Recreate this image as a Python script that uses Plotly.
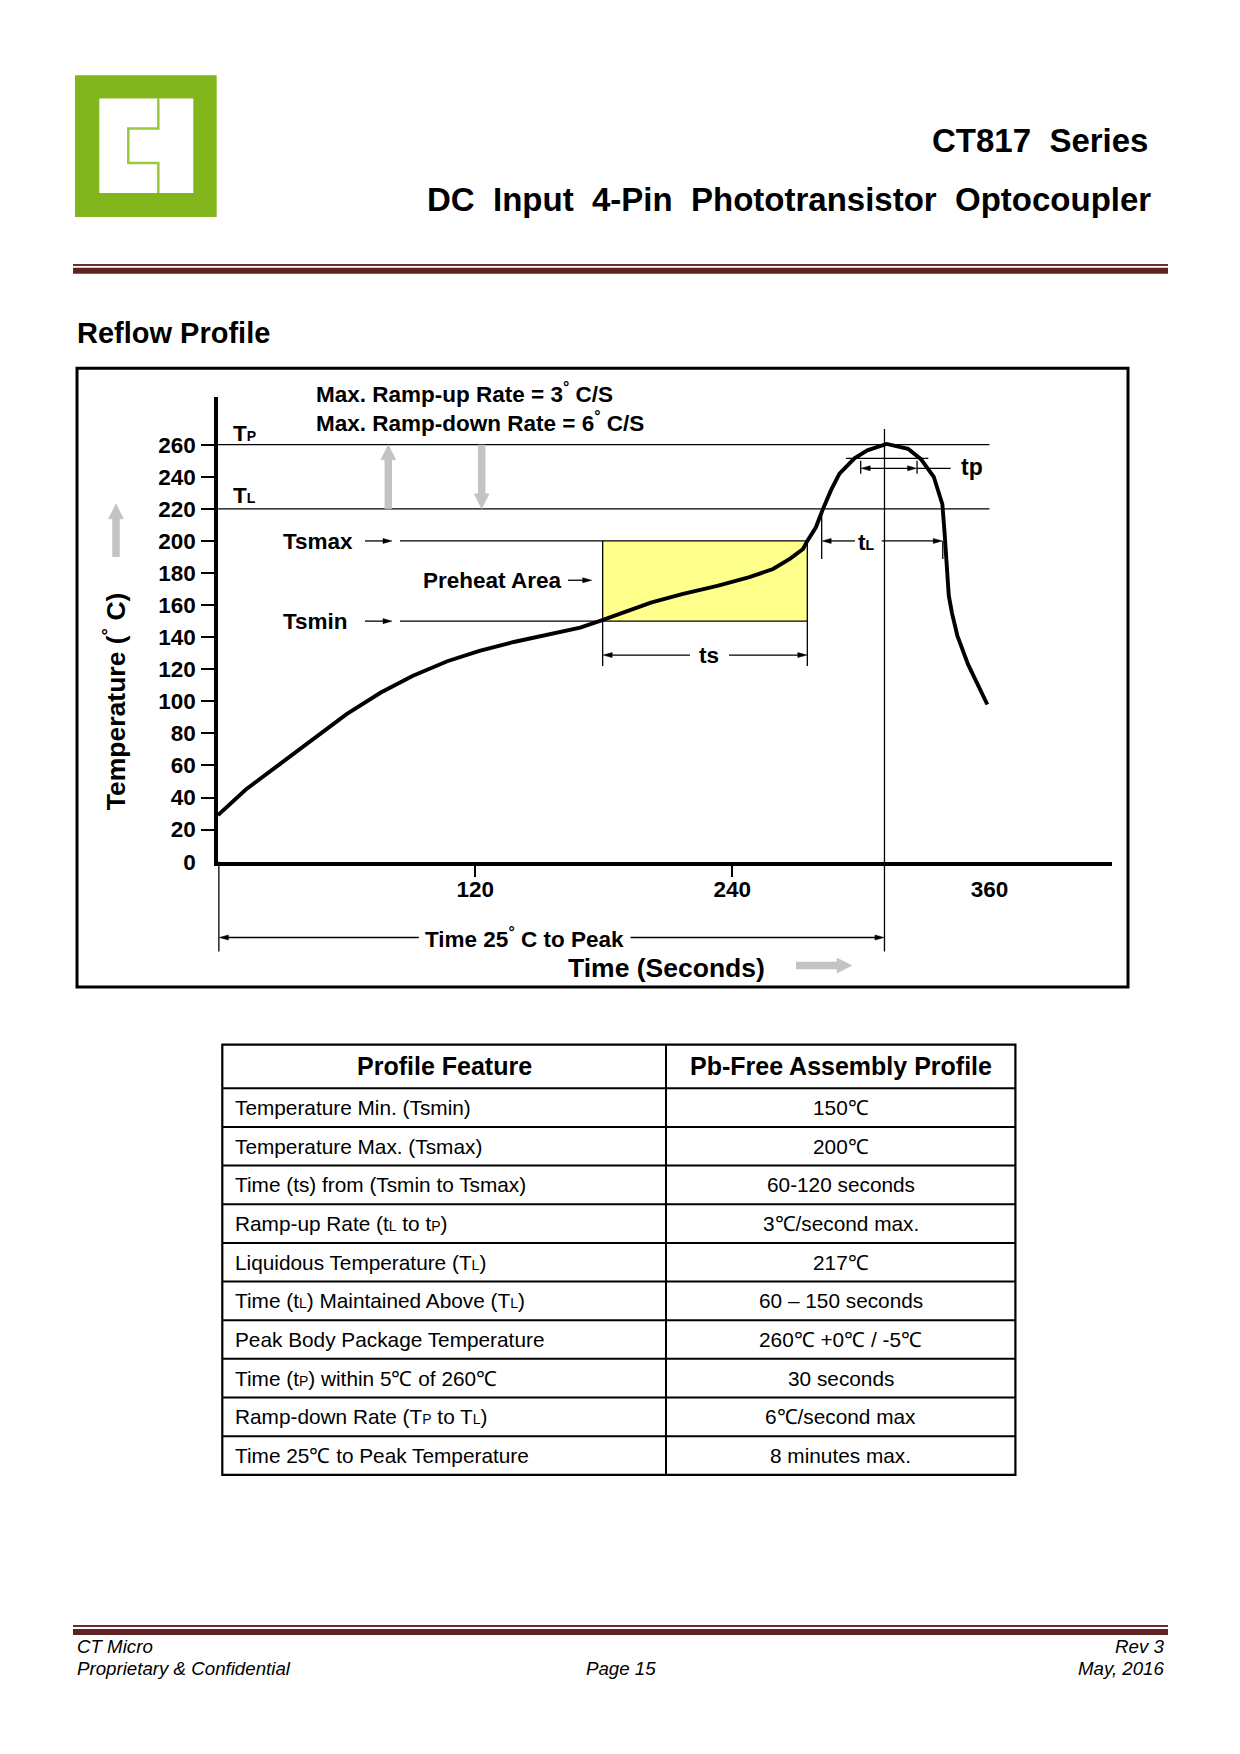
import plotly.graph_objects as go

# ---------------- data ----------------
time_s = [0, 13, 29, 45, 60, 76, 91, 107, 122, 138, 154, 169, 179, 190, 202, 217, 233, 248, 259,
          267, 273, 275, 279, 282, 286, 290, 297, 303, 312, 322, 328, 334, 338, 339, 340,
          341, 342.5, 345, 350, 353, 359]
temp_c = [29, 45, 61, 77, 92, 105.5, 116, 125, 131.5, 137, 141.5, 146, 150.5, 156, 161.5, 167, 172,
          177.5, 182.5, 189, 195, 200, 208.5, 219, 231.5, 242, 251.5, 256.5, 260.5, 257.5,
          251, 240, 223, 206, 186, 166, 155, 141, 123, 115, 98]

y_tick_vals = [0, 20, 40, 60, 80, 100, 120, 140, 160, 180, 200, 220, 240, 260]
y_tick_marks = [20, 40, 60, 80, 100, 120, 140, 160, 180, 200, 220, 240, 260]
x_tick_vals = [120, 240, 360]
x_tick_marks = [120, 240]

T_PEAK = 260
T_LIQ = 220
TS_MAX = 200
TS_MIN = 150
preheat_t = [179.5, 275]
peak_t = 311
tl_t = [281.7, 338.2]
tp_t = [299.9, 326.2]

SUBL = "<span style='font-size:14px'>L</span>"
SUBP = "<span style='font-size:14px'>P</span>"
table_header = ["Profile Feature", "Pb-Free Assembly Profile"]
features = [
    "Temperature Min. (Tsmin)",
    "Temperature Max. (Tsmax)",
    "Time (ts) from (Tsmin to Tsmax)",
    "Ramp-up Rate (t" + SUBL + " to t" + SUBP + ")",
    "Liquidous Temperature (T" + SUBL + ")",
    "Time (t" + SUBL + ") Maintained Above (T" + SUBL + ")",
    "Peak Body Package Temperature",
    "Time (t" + SUBP + ") within 5℃ of 260℃",
    "Ramp-down Rate (T" + SUBP + " to T" + SUBL + ")",
    "Time 25℃ to Peak Temperature",
]
profile_values = [
    "150℃", "200℃", "60-120 seconds", "3℃/second max.", "217℃",
    "60 – 150 seconds", "260℃ +0℃ / -5℃", "30 seconds", "6℃/second max", "8 minutes max.",
]

# ---------------- geometry helpers ----------------
PAGE_W, PAGE_H = 1240, 1754
OFF = 8        # default page body margin
KY = 1.0091    # vertical calibration of the captured page
W, H = PAGE_W - 2 * OFF, PAGE_H - 2 * OFF
FONT = "Liberation Sans, Arial, Helvetica, sans-serif"


def fx(p):
    return (p - OFF) / W


def fy(p):
    return 1 - (p * KY - OFF) / H


X0, SX = 218.0, 2.143     # px of t=0, px per second
Y0, SY = 860.3, 1.6013    # px of T=0, px per degree


def t_of(px):
    return (px - X0) / SX


def T_of(py):
    return (Y0 - py) / SY


def px_t(t):
    return X0 + SX * t


def py_T(T):
    return Y0 - SY * T


AX_R, AX_T = 1112, 396
BOX = (77, 367.7, 1128, 985.5)

fig = go.Figure()

# reflow curve
fig.add_trace(go.Scatter(x=time_s, y=temp_c, mode="lines", xaxis="x", yaxis="y",
                         line=dict(color="black", width=3.9), hoverinfo="skip", showlegend=False))
# helper trace for the tick-mark overlay axes
fig.add_trace(go.Scatter(x=[time_s[0]], y=[temp_c[0]], mode="markers", xaxis="x3", yaxis="y3",
                         marker=dict(opacity=0), hoverinfo="skip", showlegend=False))

tickfont = dict(family=FONT, size=22.5, color="black", weight="bold")
common = dict(showgrid=False, zeroline=False, fixedrange=True)
fig.update_layout(
    width=W, height=H, autosize=False,
    margin=dict(l=0, r=0, t=0, b=0),
    paper_bgcolor="white", plot_bgcolor="rgba(0,0,0,0)",
    showlegend=False,
    xaxis=dict(domain=[fx(X0), fx(AX_R)], range=[0, t_of(AX_R)], anchor="y",
               showline=True, linewidth=3.5, linecolor="black",
               ticks="outside", ticklen=5, tickwidth=1.5, tickcolor="rgba(0,0,0,0)",
               tickmode="array", tickvals=x_tick_vals, tickfont=tickfont, ticklabelstandoff=0, **common),
    yaxis=dict(domain=[fy(Y0), fy(AX_T)], range=[0, T_of(AX_T)], anchor="x",
               showline=True, linewidth=3.5, linecolor="black",
               ticks="outside", ticklen=13, tickwidth=1.5, tickcolor="rgba(0,0,0,0)",
               tickmode="array", tickvals=y_tick_vals, tickfont=tickfont, ticklabelstandoff=1, **common),
    xaxis3=dict(overlaying="x", anchor="y3", range=[0, t_of(AX_R)],
                showline=True, linewidth=3.5, linecolor="black",
                ticks="outside", ticklen=12, tickwidth=1.5, tickcolor="black",
                tickmode="array", tickvals=x_tick_marks, showticklabels=False, **common),
    yaxis3=dict(overlaying="y", anchor="x3", range=[0, T_of(AX_T)],
                showline=True, linewidth=3.5, linecolor="black",
                ticks="outside", ticklen=13, tickwidth=1.5, tickcolor="black",
                tickmode="array", tickvals=y_tick_marks, showticklabels=False, **common),
)

shapes = []


def pline(x0, y0, x1, y1, w=1.3, color="black"):
    shapes.append(dict(type="line", xref="paper", yref="paper", x0=fx(x0), y0=fy(y0),
                       x1=fx(x1), y1=fy(y1), line=dict(color=color, width=w)))


def prect(x0, y0, x1, y1, fill, lw=0, lc="black"):
    shapes.append(dict(type="rect", xref="paper", yref="paper", x0=fx(x0), y0=fy(y0),
                       x1=fx(x1), y1=fy(y1), fillcolor=fill, line=dict(color=lc, width=lw)))


def dline(t0, T0, t1, T1, w=1.3):
    pline(px_t(t0), py_T(T0), px_t(t1), py_T(T1), w=w)


def head(xt, yt, xb, yb, length, width, color):
    """filled triangular arrow head with tip (xt,yt) pointing away from (xb,yb), pixels"""
    dx, dy = xt - xb, yt - yb
    n = (dx * dx + dy * dy) ** 0.5
    ux, uy = dx / n, dy / n
    bx, by = xt - ux * length, yt - uy * length
    px_, py_ = -uy * width / 2, ux * width / 2
    pts = [(xt, yt), (bx + px_, by + py_), (bx - px_, by - py_)]
    path = "M" + " L".join("{:.6f},{:.6f}".format(fx(a), fy(b)) for a, b in pts) + " Z"
    shapes.append(dict(type="path", xref="paper", yref="paper", path=path,
                       fillcolor=color, line=dict(color=color, width=0.5)))


def arrow(x0, y0, x1, y1, w=1.3, hl=9, hw=5, color="black", both=False):
    """arrow in pixel coordinates from tail (x0,y0) to tip (x1,y1)"""
    dx, dy = x1 - x0, y1 - y0
    n = (dx * dx + dy * dy) ** 0.5
    ux, uy = dx / n, dy / n
    sx0 = x0 + (ux * hl * 0.8 if both else 0)
    sy0 = y0 + (uy * hl * 0.8 if both else 0)
    pline(sx0, sy0, x1 - ux * hl * 0.8, y1 - uy * hl * 0.8, w=w, color=color)
    head(x1, y1, x0, y0, hl, hw, color)
    if both:
        head(x0, y0, x1, y1, hl, hw, color)


# logo
prect(75, 75, 216.7, 216.7, "#83b51d")
prect(99.3, 98.3, 193.3, 192.7, "white")
shapes.append(dict(type="path", xref="paper", yref="paper",
                   path="M{},{} V{} H{} V{} H{} V{}".format(
                       fx(158.3), fy(98.3), fy(128.3), fx(128.3), fy(162.7), fx(158.3), fy(192.7)),
                   line=dict(color="#9cc63c", width=2.5)))

# header / footer rules
pline(73, 264.5, 1168, 264.5, w=2, color="#6b2c2c")
prect(73, 267.3, 1168, 273.3, "#5e2424")
pline(73, 1623.5, 1168, 1623.5, w=2, color="#6b2c2c")
prect(73, 1626.5, 1168, 1632.5, "#5e2424")

# chart frame
prect(BOX[0], BOX[1], BOX[2], BOX[3], "rgba(0,0,0,0)", lw=3, lc="black")

# preheat area
shapes.append(dict(type="rect", xref="x", yref="y", x0=preheat_t[0], x1=preheat_t[1],
                   y0=TS_MIN, y1=TS_MAX, fillcolor="#ffff8c", line=dict(width=0), layer="below"))

# guide lines
tick_start = t_of(201.7)
dline(tick_start, T_PEAK, 360, T_PEAK)
dline(tick_start, T_LIQ, 360, T_LIQ)
dline(t_of(400), TS_MAX, preheat_t[1], TS_MAX)
dline(t_of(400), TS_MIN, preheat_t[1], TS_MIN)
ext_T = T_of(665)
dline(preheat_t[0], TS_MAX, preheat_t[0], ext_T)
dline(preheat_t[1], TS_MAX, preheat_t[1], ext_T)
bottom_T = T_of(950)
dline(peak_t, T_of(428.3), peak_t, bottom_T)
dline(0.4, 0, 0.4, bottom_T)
dline(tl_t[0], T_LIQ, tl_t[0], T_of(558))
dline(tl_t[1], TS_MAX, tl_t[1], T_of(558))
tp_y = 467.5
dline(t_of(846), T_of(457.7), t_of(928.3), T_of(457.7))
dline(tp_t[0], T_of(460), tp_t[0], T_of(473))
dline(tp_t[1], T_of(460), tp_t[1], T_of(473))
pline(px_t(tp_t[1]), tp_y, 950.7, tp_y)

# dimension arrows (pixel geometry derived from the data scale)
arrow(365, py_T(TS_MAX), 392, py_T(TS_MAX))
arrow(365, py_T(TS_MIN), 392, py_T(TS_MIN))
arrow(568, 579.3, 591.7, 579.3)
ts_y = 654
arrow(690, ts_y, px_t(preheat_t[0]) + 0.5, ts_y)
arrow(729, ts_y, px_t(preheat_t[1]) - 0.5, ts_y)
tl_y = py_T(TS_MAX)
arrow(855, tl_y, px_t(tl_t[0]) + 0.5, tl_y)
arrow(881.7, tl_y, px_t(tl_t[1]) - 0.5, tl_y)
arrow(px_t(tp_t[0]) + 0.5, tp_y, px_t(tp_t[1]) - 0.5, tp_y, both=True)
tpk_y = 936
arrow(418.8, tpk_y, px_t(0.4) + 0.5, tpk_y)
arrow(630.5, tpk_y, px_t(peak_t) - 0.5, tpk_y)

GRAY = "#c3c3c3"
arrow(388.3, py_T(T_LIQ), 388.3, py_T(T_PEAK), w=7.5, hl=15, hw=15, color=GRAY)
arrow(481.7, py_T(T_PEAK), 481.7, py_T(T_LIQ), w=7.5, hl=15, hw=15, color=GRAY)
arrow(116, 556, 116, 503, w=7.5, hl=15, hw=15, color=GRAY)
arrow(796, 964, 852, 964, w=7.5, hl=15, hw=15, color=GRAY)

# table grid
TBL_X = [222.3, 666, 1015.4]
TBL_TOP, TBL_HDR = 1043, 1086.5
ROW_H = 38.6
n_rows = len(features)
tbl_bottom = TBL_HDR + ROW_H * n_rows
prect(TBL_X[0], TBL_TOP, TBL_X[2], tbl_bottom, "rgba(0,0,0,0)", lw=2.2)
pline(TBL_X[1], TBL_TOP, TBL_X[1], tbl_bottom, w=2)
for i in range(n_rows):
    yline = TBL_HDR + ROW_H * i
    pline(TBL_X[0], yline, TBL_X[2], yline, w=2)

fig.update_layout(shapes=shapes)


def label(text, x, y, size=22.5, xanchor="center", weight="bold", style="normal", angle=0):
    fig.add_annotation(x=fx(x), y=fy(y), xref="paper", yref="paper", text=text,
                       showarrow=False, xanchor=xanchor, yanchor="middle", textangle=angle,
                       font=dict(family=FONT, size=size, color="black", weight=weight, style=style),
                       borderpad=0)


# table texts
col_c = [(TBL_X[0] + TBL_X[1]) / 2, (TBL_X[1] + TBL_X[2]) / 2]
for j, h in enumerate(table_header):
    label(h, col_c[j], (TBL_TOP + TBL_HDR) / 2, size=25)
for i in range(n_rows):
    yc = TBL_HDR + ROW_H * (i + 0.5)
    label(features[i], TBL_X[0] + 11.5, yc, size=20.8, xanchor="left", weight="normal")
    label(profile_values[i], col_c[1], yc, size=20.8, weight="normal")

# page texts
label("CT817\u00a0 Series", 1148.5, 140, size=33, xanchor="right")
label("DC\u00a0 Input\u00a0 4-Pin\u00a0 Phototransistor\u00a0 Optocoupler", 1151.5, 199,
      size=33, xanchor="right")
label("Reflow Profile", 76, 332, size=29, xanchor="left")
label("CT Micro", 76, 1643.5, size=18.7, xanchor="left", weight="normal", style="italic")
label("Proprietary & Confidential", 76, 1666, size=18.7, xanchor="left", weight="normal", style="italic")
label("Page 15", 621, 1666, size=18.7, weight="normal", style="italic")
label("Rev 3", 1165, 1643.5, size=18.7, xanchor="right", weight="normal", style="italic")
label("May, 2016", 1165, 1666, size=18.7, xanchor="right", weight="normal", style="italic")

# chart texts
label("Max. Ramp-up Rate = 3<sup>°</sup> C/S", 315, 392, xanchor="left")
label("Max. Ramp-down Rate = 6<sup>°</sup> C/S", 315, 421.5, xanchor="left")
label("T" + SUBP, 232, 433, xanchor="left")
label("T" + SUBL, 232, 495, xanchor="left")
label("Tsmax", 281.5, 541, xanchor="left")
label("Tsmin", 281.5, 620, xanchor="left")
label("Preheat Area", 561.7, 579.3, xanchor="right")
label("ts", 709, 654)
label("t" + SUBL, 867, 542)
label("tp", 972, 466.7, size=23)
label("Time 25<sup>°</sup> C to Peak", 524, 936)
label("Time (Seconds)", 666, 966, size=26.5)
label("Temperature (<sup>°</sup> C)", 114, 700, size=26.5, angle=-90)

fig.write_html("out.html")
